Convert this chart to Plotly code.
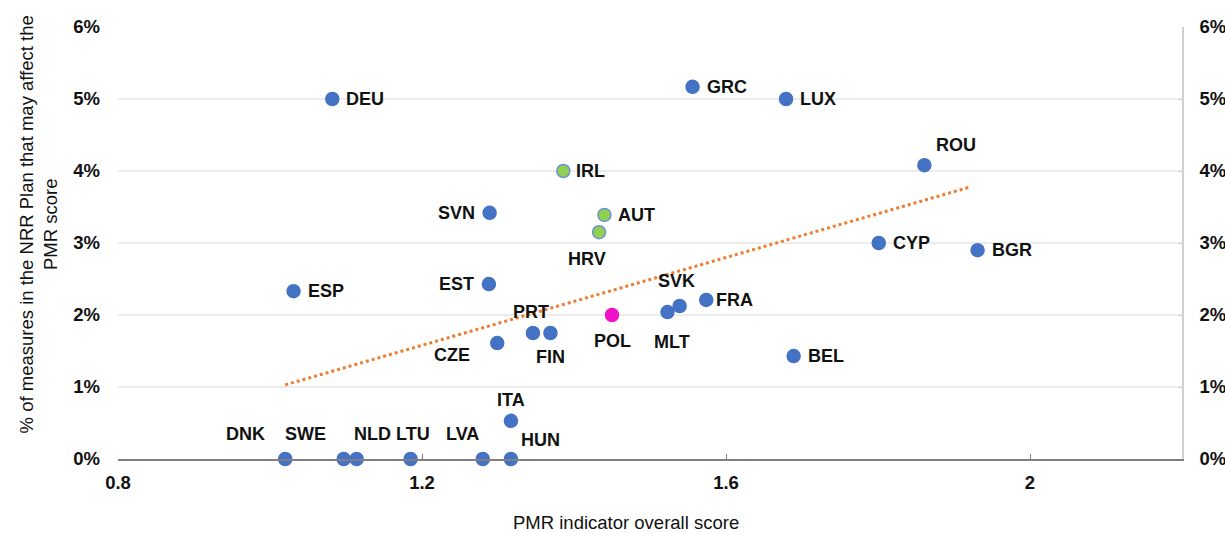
import plotly.graph_objects as go

countries = ["DNK", "SWE", "NLD", "LTU", "LVA", "HUN", "ITA", "DEU", "ESP", "SVN",
             "EST", "CZE", "PRT", "FIN", "IRL", "HRV", "AUT", "POL", "MLT", "SVK",
             "FRA", "GRC", "LUX", "BEL", "CYP", "ROU", "BGR"]
pmr_score = [1.02, 1.097, 1.114, 1.185, 1.28, 1.317, 1.317, 1.082, 1.031, 1.289,
             1.288, 1.299, 1.346, 1.369, 1.386, 1.433, 1.44, 1.45, 1.523, 1.539,
             1.574, 1.556, 1.679, 1.689, 1.801, 1.861, 1.931]
nrr_share = [0.0, 0.0, 0.0, 0.0, 0.0, 0.0, 0.53, 5.0, 2.33, 3.42,
             2.43, 1.61, 1.75, 1.75, 4.0, 3.15, 3.39, 2.0, 2.04, 2.125,
             2.21, 5.17, 5.0, 1.43, 3.0, 4.08, 2.9]
group = ["base"] * 27
for c in ["IRL", "HRV", "AUT"]:
    group[countries.index(c)] = "green"
group[countries.index("POL")] = "pol"

trend_x = [1.02, 1.922]
trend_y = [1.03, 3.78]

# label placement: (xanchor, xshift, yshift)
label_pos = {
    "DNK": ("center", -40, 25), "SWE": ("center", -38, 25), "NLD": ("center", 16, 25),
    "LTU": ("center", 2, 25), "LVA": ("center", -20, 25), "HUN": ("left", 8, 19),
    "ITA": ("center", 0, 21), "DEU": ("left", 12, 0), "ESP": ("left", 12, 0),
    "SVN": ("right", -13, 0), "EST": ("right", -13, 0), "CZE": ("center", -45, -12),
    "PRT": ("center", -2, 21), "FIN": ("center", 0, -24), "IRL": ("left", 11, 0),
    "HRV": ("center", -12, -27), "AUT": ("left", 12, 0), "POL": ("center", 0, -26),
    "MLT": ("center", 5, -30), "SVK": ("center", -3, 25), "FRA": ("left", 8, 0),
    "GRC": ("left", 12, 0), "LUX": ("left", 12, 0), "BEL": ("left", 12, 0),
    "CYP": ("left", 12, 0), "ROU": ("left", 10, 20), "BGR": ("left", 12, 0),
}

FONT = "Liberation Sans, Arial"
fill = {"base": "#4472C4", "green": "#92D050", "pol": "#F012C8"}
edge = {"base": "#4472C4", "green": "#6A93D6", "pol": "#F012C8"}

fig = go.Figure()

fig.add_trace(go.Scatter(
    x=trend_x, y=trend_y, mode="lines",
    line=dict(color="#ED7D31", width=3, dash="dot"), hoverinfo="skip"))

for g in ["base", "green", "pol"]:
    idx = [i for i in range(len(countries)) if group[i] == g]
    fig.add_trace(go.Scatter(
        x=[pmr_score[i] for i in idx], y=[nrr_share[i] for i in idx],
        mode="markers", text=[countries[i] for i in idx],
        marker=dict(size=13, color=fill[g], line=dict(color=edge[g], width=1.5)),
        cliponaxis=False))

# invisible trace to carry the right-hand axis
fig.add_trace(go.Scatter(x=[0.8], y=[0], yaxis="y2", mode="markers",
                         marker=dict(opacity=0), hoverinfo="skip"))

for i, c in enumerate(countries):
    xa, xs, ys = label_pos[c]
    fig.add_annotation(x=pmr_score[i], y=nrr_share[i], text="<b>" + c + "</b>",
                       showarrow=False, xanchor=xa, yanchor="middle",
                       xshift=xs, yshift=ys,
                       font=dict(family=FONT, size=18, color="#111111"))

# axis titles as annotations so they sit where the original has them
fig.add_annotation(xref="paper", yref="paper", x=0.4774, y=-0.146,
                   text="PMR indicator overall score", showarrow=False,
                   xanchor="center", yanchor="middle",
                   font=dict(family=FONT, size=18.5, color="#111111"))
fig.add_annotation(xref="paper", yref="paper", x=-0.0747, y=0.542,
                   text="% of measures in the NRR Plan that may affect the<br>PMR score",
                   textangle=-90, showarrow=False,
                   xanchor="center", yanchor="middle",
                   font=dict(family=FONT, size=18.5, color="#111111"))

ticks_y = [0, 1, 2, 3, 4, 5, 6]
tick_text = ["<b>%d%%</b>" % v for v in ticks_y]

fig.update_layout(
    width=1225, height=533,
    paper_bgcolor="white", plot_bgcolor="white",
    showlegend=False,
    margin=dict(l=118, r=43, t=27, b=74),
    font=dict(family=FONT, size=18.5, color="#111111"),
    xaxis=dict(
        range=[0.8, 2.2], tickvals=[0.8, 1.2, 1.6, 2.0],
        ticktext=["<b>0.8</b>", "<b>1.2</b>", "<b>1.6</b>", "<b>2</b>"],
        showgrid=False, zeroline=False, automargin=False,
        showline=True, linecolor="#7f7f7f", linewidth=1.5,
        ticks="inside", ticklen=5, tickcolor="#7f7f7f", ticklabelstandoff=6,
    ),
    yaxis=dict(
        range=[0, 6], tickvals=ticks_y, ticktext=tick_text,
        showgrid=True, gridcolor="#ececec", gridwidth=1.5, automargin=False,
        zeroline=False, showline=False, ticks="", ticklabelstandoff=17,
    ),
    yaxis2=dict(
        range=[0, 6], tickvals=ticks_y, ticktext=tick_text,
        overlaying="y", side="right", showgrid=False, zeroline=False,
        showline=True, linecolor="#d0d0d0", linewidth=1.5, automargin=False,
        ticks="inside", ticklen=4, tickcolor="#d0d0d0",
        ticklabelstandoff=12,
    ),
)

# drop the default page margin so the figure fills the window exactly
fig.write_html("out.html", config={"displayModeBar": False},
               post_script="document.body.style.margin = '0';")
